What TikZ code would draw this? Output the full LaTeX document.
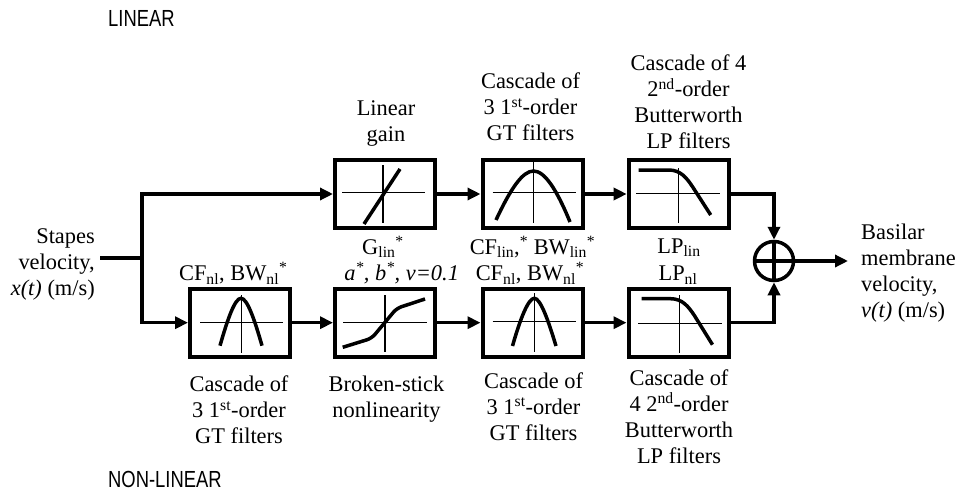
\documentclass[tikz,border=0pt]{standalone}
\usepackage{fontspec}
\setmainfont{Liberation Serif}
\newfontfamily\capsfont[FakeStretch=0.79]{Liberation Sans}
\usetikzlibrary{arrows.meta}
\newcommand{\mylines}[2][c]{\begin{tabular}[t]{@{}#1@{}}#2\end{tabular}}
\begin{document}
\begin{tikzpicture}[x=1pt,y=-1pt,
  font=\fontsize{22.4}{26}\selectfont,
  blk/.style={draw, line width=4pt, minimum width=100pt, minimum height=68pt, inner sep=0pt},
  conn/.style={line width=3.5pt},
  arr/.style={conn, -{Triangle[length=13pt,width=12pt]}},
  axln/.style={line width=1.2pt},
  crv/.style={line width=3.5pt},
  sumnode/.style={circle, draw, line width=3.5pt, minimum size=39pt, inner sep=0pt},
  lab/.style={inner sep=0pt, anchor=base},
  capslab/.style={inner sep=0pt, anchor=base west, font=\capsfont\fontsize{23.3}{26}\selectfont}]
\useasboundingbox (0,0) rectangle (958,492);

% blocks
\node[blk] (t1) at (385,194) {};
\node[blk] (t2) at (532.5,194) {};
\node[blk] (t3) at (678.7,194) {};
\node[blk] (b1) at (240,322.7) {};
\node[blk] (b2) at (385,322.7) {};
\node[blk] (b3) at (532.5,322.7) {};
\node[blk] (b4) at (678.5,322.7) {};
\node[sumnode] (sum) at (774,261) {};
\coordinate (in) at (100,258);
\coordinate (j) at (142,258);
\coordinate (out) at (848,261);

% connectors
\draw[conn] (in) -- (j);
\draw[arr] (j) |- (t1.west);
\draw[arr] (j) |- (b1.west);
\draw[arr] (t1) -- (t2);
\draw[arr] (t2) -- (t3);
\draw[arr] (b1) -- (b2);
\draw[arr] (b2) -- (b3);
\draw[arr] (b3) -- (b4);
\draw[arr] (t3.east) -| (sum.north);
\draw[arr] (b4.east) -| (sum.south);
\draw[arr] (sum.east) -- (out);
\draw[conn] (sum.north) -- (sum.south);
\draw[conn] (sum.west) -- (sum.east);

% block icons
\begin{scope}[shift={(t1.center)}]
  \draw[axln] (-43,-1.5) -- (40,-1.5);
  \draw[axln] (-2,-29) -- (-2,29);
  \draw[crv] (-21,30) -- (15,-25);
\end{scope}
\begin{scope}[shift={(t2.center)}]
  \draw[axln] (-40,-1.3) -- (43.5,-1.3);
  \draw[axln] (1,-32) -- (1,29);
  \draw[crv] (-36.5,26) .. controls (-22,-5) and (-10,-23) .. (1,-23) .. controls (12,-23) and (24,-5) .. (37.5,28);
\end{scope}
\begin{scope}[shift={(t3.center)}]
  \draw[axln] (-42.7,-0.7) -- (41.3,-0.7);
  \draw[axln] (-0.4,-26) -- (-0.4,29);
  \draw[crv] (-40,-24) -- (-10,-24) .. controls (2,-24) and (8,-16) .. (14,-7) -- (32,21);
\end{scope}
\begin{scope}[shift={(b1.center)}]
  \draw[axln] (-40,0) -- (43,0);
  \draw[axln] (1.7,-27.7) -- (1.7,30.3);
  \draw[crv] (-20,23) .. controls (-12,-5) and (-5,-24.4) .. (1,-24.4) .. controls (7,-24.4) and (14,-5) .. (22,23);
\end{scope}
\begin{scope}[shift={(b2.center)}]
  \draw[axln] (-42,-0.4) -- (42,-0.4);
  \draw[axln] (0,-27.7) -- (0,29);
  \draw[crv, rounded corners=5pt] (-42.3,24.6) -- (-13.3,15.6) -- (11.7,-14.4) -- (40,-23.7);
\end{scope}
\begin{scope}[shift={(b3.center)}]
  \draw[axln] (-40,-1) -- (43.5,-1);
  \draw[axln] (1.8,-29.7) -- (1.8,29);
  \draw[crv] (-20,23.3) .. controls (-12,-5) and (-4,-24.4) .. (1.8,-24.4) .. controls (7.6,-24.4) and (15,-5) .. (23.5,23.3);
\end{scope}
\begin{scope}[shift={(b4.center)}]
  \draw[axln] (-40.5,0.6) -- (43.2,0.6);
  \draw[axln] (0.8,-27.7) -- (0.8,30.3);
  \draw[crv] (-37,-24) -- (-8,-24) .. controls (4,-24) and (10,-16) .. (16,-7) -- (34,22);
\end{scope}

% labels
\node[lab] (lt1) at (386,115.7) {\mylines{Linear\\gain}};
\node[lab] (lt2) at (530.5,89) {\mylines{Cascade of\\3 1\textsuperscript{st}-order\\GT filters}};
\node[lab] (lt3) at (688.5,70.7) {\mylines{Cascade of 4\\2\textsuperscript{nd}-order\\Butterworth\\LP filters}};
\node[lab] (pt1) at (383,254) {G\textsubscript{lin}\textsuperscript{*}};
\node[lab] (pt2) at (532.5,254) {CF\textsubscript{lin},\textsuperscript{*} BW\textsubscript{lin}\textsuperscript{*}};
\node[lab] (pt3) at (679,253) {LP\textsubscript{lin}};
\node[lab] (pb1) at (233.3,280.5) {CF\textsubscript{nl}, BW\textsubscript{nl}\textsuperscript{*}};
\node[lab] (pb2) at (401.7,280.5) {\itshape a\textsuperscript{*}, b\textsuperscript{*}, v=0.1};
\node[lab] (pb3) at (530,280.5) {CF\textsubscript{nl}, BW\textsubscript{nl}\textsuperscript{*}};
\node[lab] (pb4) at (678,280.5) {LP\textsubscript{nl}};
\node[lab] (lb1) at (239,391.7) {\mylines{Cascade of\\3 1\textsuperscript{st}-order\\GT filters}};
\node[lab] (lb2) at (386.5,391.7) {\mylines{Broken-stick\\nonlinearity}};
\node[lab] (lb3) at (533.5,388.3) {\mylines{Cascade of\\3 1\textsuperscript{st}-order\\GT filters}};
\node[lab] (lb4) at (679,385) {\mylines{Cascade of\\4 2\textsuperscript{nd}-order\\Butterworth\\LP filters}};
\node[lab, anchor=base east] (inlab) at (95,243) {\mylines[r]{Stapes\\velocity,\\\textit{x(t)} (m/s)}};
\node[lab, anchor=base west] (outlab) at (861,239.5) {\mylines[l]{Basilar\\membrane\\velocity,\\\textit{v(t)} (m/s)}};
\node[capslab] (lin) at (108,26.7) {LINEAR};
\node[capslab] (nonlin) at (108,487.5) {NON-LINEAR};
\end{tikzpicture}
\end{document}
